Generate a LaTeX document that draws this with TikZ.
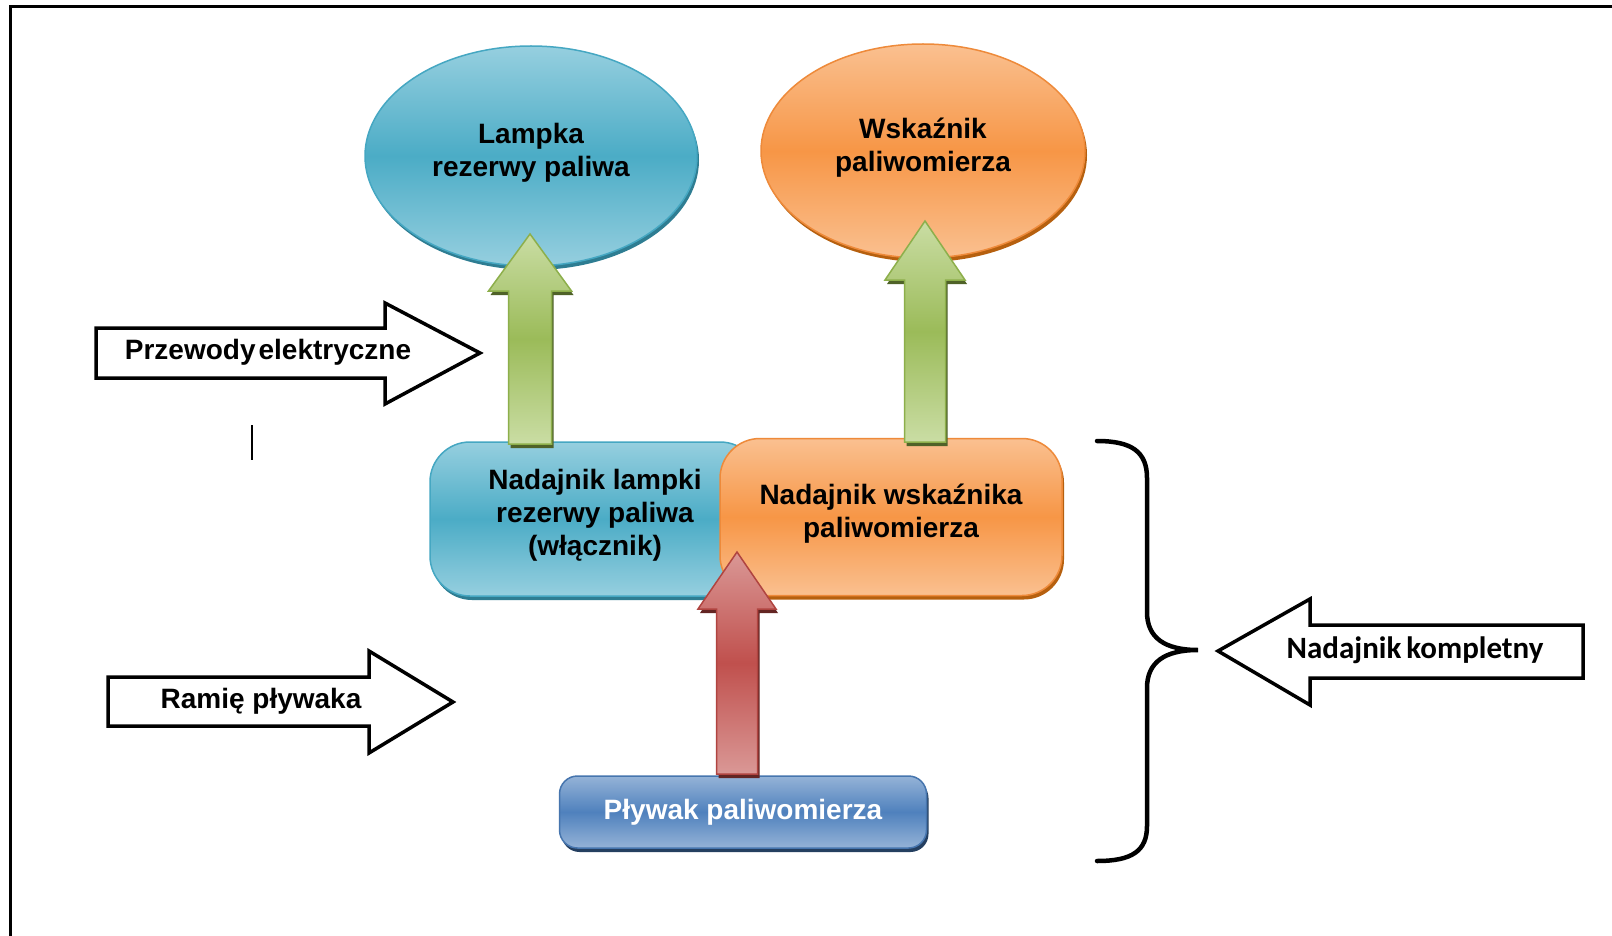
\documentclass[tikz,border=0pt]{standalone}
\usepackage{fontspec}
\setmainfont{Liberation Sans}
\newfontfamily\calfont{Carlito}
\usetikzlibrary{shapes.geometric,shadows}
\definecolor{aquaL}{HTML}{96CFDF}
\definecolor{aquaM}{HTML}{4BACC6}
\definecolor{aquaE}{HTML}{45A7C2}
\definecolor{aquaD}{HTML}{2E7D92}
\definecolor{orL}{HTML}{FAC090}
\definecolor{orM}{HTML}{F79646}
\definecolor{orE}{HTML}{EE8A3A}
\definecolor{orD}{HTML}{B6600F}
\definecolor{grL}{HTML}{CADDA4}
\definecolor{grM}{HTML}{9BBB59}
\definecolor{grE}{HTML}{8DAF4B}
\definecolor{grD}{HTML}{4F6228}
\definecolor{rdL}{HTML}{DA9896}
\definecolor{rdM}{HTML}{C0504D}
\definecolor{rdE}{HTML}{B04440}
\definecolor{rdD}{HTML}{632523}
\definecolor{blL}{HTML}{95B3D7}
\definecolor{blM}{HTML}{4F81BD}
\definecolor{blE}{HTML}{4675AE}
\definecolor{blD}{HTML}{243F60}
\newcommand\blkuparrow[8]{%
  \fill[#8] ({#1-#5+2},{#2+4}) -- ({#1+#5+2},{#2+4}) -- ({#1+#5+2},{#4+4}) -- ({#1+#6+2},{#4+4}) -- ({#1+2},{#3+4}) -- ({#1-#6+2},{#4+4}) -- ({#1-#5+2},{#4+4}) -- cycle;
  \path[#7] ({#1-#5},#2) -- ({#1+#5},#2) -- ({#1+#5},#4) -- ({#1+#6},#4) -- (#1,#3) -- ({#1-#6},#4) -- ({#1-#5},#4) -- cycle;
}
\begin{document}
\begin{tikzpicture}[x=1pt,y=-1pt,
  txt/.style={font=\bfseries\fontsize{28}{33}\selectfont, align=center, text=black},
  aquafill/.style={top color=aquaL, bottom color=aquaL, middle color=aquaM, draw=aquaE, line width=1.5pt},
  orfill/.style={top color=orL, bottom color=orL, middle color=orM, draw=orE, line width=1.5pt},
  blfill/.style={top color=blL, bottom color=blL, middle color=blM, draw=blE, line width=1.5pt},
  grfill/.style={top color=grL, bottom color=grL, middle color=grM, draw=grE, line width=1.5pt},
  rdfill/.style={top color=rdL, bottom color=rdL, middle color=rdM, draw=rdE, line width=1.5pt},
  shad/.style={general shadow={shadow xshift=2pt, shadow yshift=-4pt, fill=#1}},
  ellip/.style={ellipse, inner sep=0pt, txt, text depth=13pt},
  rbox/.style={rectangle, inner sep=0pt, txt, text depth=13pt},
  outl/.style={fill=white, draw=black, line width=3.5pt, line join=miter},
  brace/.style={draw=black, line width=4.5pt, line cap=round}
]
\useasboundingbox (0,0) rectangle (1612,936);
\fill[white] (0,0) rectangle (1612,936);
% frame
\draw[line width=3pt] (10,936) -- (10,7) -- (1612,7);

% top ellipses
\node[ellip, aquafill, shad=aquaD, minimum width=332, minimum height=220] (lamp) at (531,156) {Lampka\\rezerwy paliwa};
\node[ellip, orfill, shad=orD, minimum width=324, minimum height=214] (wsk) at (923,151) {Wskaźnik\\paliwomierza};

% transmitter boxes
\node[rbox, aquafill, shad=aquaD, rounded corners=40, minimum width=330, minimum height=154] (nl) at (595,519) {Nadajnik lampki\\rezerwy paliwa\\(włącznik)};
\node[rbox, orfill, shad=orD, rounded corners=40, minimum width=342, minimum height=157] (nw) at (891,517) {Nadajnik wskaźnika\\paliwomierza};

% float box
\node[rectangle, inner sep=0pt, txt, blfill, shad=blD, rounded corners=18, minimum width=367, minimum height=72, text=white] (plyw) at (743,812) {Pływak paliwomierza};

% block arrows (from boxes up to the indicators, from float up to the transmitter)
\blkuparrow{530}{444}{234}{291}{21.5}{41.5}{grfill}{grD}
\blkuparrow{925}{442}{221}{280}{20.5}{40}{grfill}{grD}
\blkuparrow{737}{774}{552}{609}{20.5}{39}{rdfill}{rdD}

% outline arrows with labels
\draw[outl] (96,328) -- (385,328) -- (385,303) -- (480,353) -- (385,404) -- (385,378) -- (96,378) -- cycle;
\node[txt] (prz) at (268,352) {Przewody\hspace{3pt}elektryczne};
\draw[line width=1.5pt] (252,425) -- (252,460);

\draw[outl] (108,677) -- (369,677) -- (369,651) -- (453,702) -- (369,753) -- (369,726) -- (108,726) -- cycle;
\node[txt] (ram) at (261,701) {Ramię pływaka};

% brace
\coordinate (brtip) at (1198,650);
\draw[brace] (1097,441) .. controls (1132,441) and (1147,452) .. (1147,478) -- (1147,612)
  .. controls (1147,638) and (1165,650) .. (brtip)
  .. controls (1165,650) and (1147,662) .. (1147,688) -- (1147,826)
  .. controls (1147,851) and (1132,861) .. (1097,861);

\draw[outl] (1583,625) -- (1310,625) -- (1310,599) -- (1218,651) -- (1310,705) -- (1310,678) -- (1583,678) -- cycle;
\node[font=\calfont\bfseries\fontsize{31}{36}\selectfont] (komp) at (1415,650) {Nadajnik\hspace{5pt}kompletny};
\end{tikzpicture}
\end{document}
